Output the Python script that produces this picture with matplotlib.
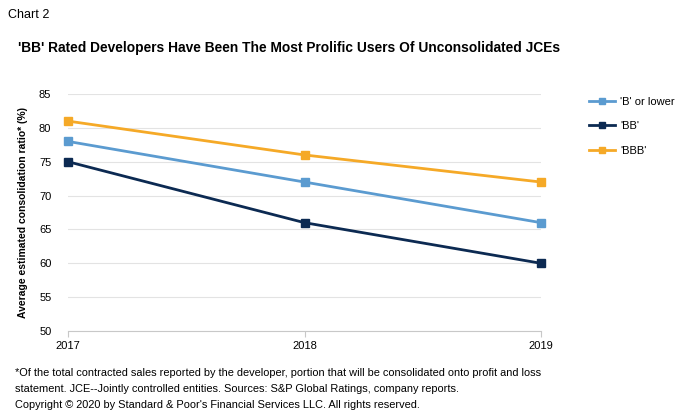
import matplotlib
matplotlib.use('Agg')
import matplotlib.pyplot as plt

plt.rcParams['font.family'] = ['Liberation Sans', 'DejaVu Sans']

years = [2017, 2018, 2019]
b_or_lower = [78, 72, 66]
bb = [75, 66, 60]
bbb = [81, 76, 72]

series_names = ["'B' or lower", "'BB'", "'BBB'"]
colors = ['#5b9bd0', '#0c2a52', '#f5a927']

fig = plt.figure(figsize=(6.81, 4.16), dpi=100)
ax = fig.add_axes([0.0999, 0.2043, 0.6945, 0.5697])

for vals, name, col in zip([b_or_lower, bb, bbb], series_names, colors):
    ax.plot(years, vals, color=col, lw=2, marker='s', ms=6, label=name,
            clip_on=False, zorder=3)

ax.set_xlim(2017, 2019)
ax.set_ylim(50, 85)
ax.set_yticks(range(50, 90, 5))
ax.set_xticks(years)
ax.grid(axis='y', color='#e3e3e3', lw=0.8)
ax.set_axisbelow(True)
for s in ['top', 'right', 'left']:
    ax.spines[s].set_visible(False)
ax.spines['bottom'].set_color('#c8c8c8')
ax.tick_params(axis='y', length=0, labelsize=8, pad=12)
ax.tick_params(axis='x', length=4, color='#c8c8c8', labelsize=8, pad=3)

ax.set_ylabel('Average estimated consolidation ratio* (%)', fontsize=7.5,
              fontweight='bold', labelpad=8)

leg = ax.legend(loc='upper left', bbox_to_anchor=(1.08, 1.03), frameon=False,
                fontsize=8, handlelength=2.4, handletextpad=0.4,
                labelspacing=1.3, markerscale=0.7)

fig.text(0.012, 0.963, 'Chart 2', fontsize=9, va='center')
fig.text(0.026, 0.885,
         "'BB' Rated Developers Have Been The Most Prolific Users Of Unconsolidated JCEs",
         fontsize=9.9, fontweight='bold', va='center')
fig.text(0.022, 0.103,
         '*Of the total contracted sales reported by the developer, portion that will be consolidated onto profit and loss',
         fontsize=7.95, va='center')
fig.text(0.022, 0.0655,
         'statement. JCE--Jointly controlled entities. Sources: S&P Global Ratings, company reports.',
         fontsize=7.95, va='center')
fig.text(0.022, 0.027,
         "Copyright \u00a9 2020 by Standard & Poor's Financial Services LLC. All rights reserved.",
         fontsize=7.95, va='center')

fig.savefig('out.png', dpi=100)
